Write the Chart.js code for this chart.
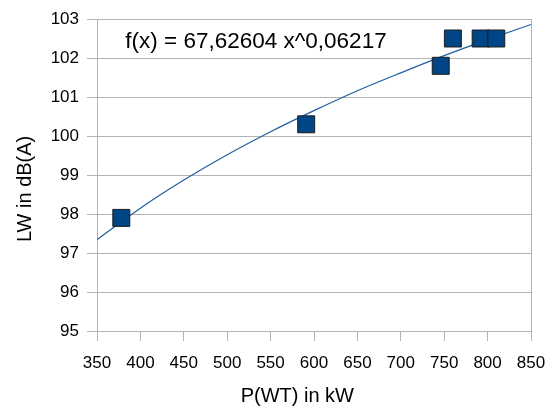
<!DOCTYPE html>
<html>
<head>
<meta charset="utf-8">
<script src="https://cdn.jsdelivr.net/npm/chart.js@4.4.1/dist/chart.umd.min.js"></script>
<style>
  body { margin: 0; background: #fff; }
  #wrap { width: 552px; height: 410px; }
</style>
</head>
<body>
<div id="wrap"><canvas id="chart" width="552" height="410"></canvas></div>
<script>
// measured turbines
const powerKW = [378, 591, 746, 760, 792, 810]
const soundDB = [97.9, 100.3, 101.8, 102.5, 102.5, 102.5]

// power trendline
const trendX = [350, 400, 450, 500, 550, 600, 650, 700, 750, 800, 850]
const trendY = [97.34, 98.15, 98.87, 99.52, 100.11, 100.65, 101.16, 101.62, 102.06, 102.47, 102.86]

const trendLabel = "f(x) = 67,62604 x^0,06217"
const xTitle = "P(WT) in kW"
const yTitle = "LW in dB(A)"

const gridColor = "#b3b3b3"
const fontFamily = "'Liberation Sans', Arial, sans-serif"

const equationPlugin = {
  id: "equation",
  afterDatasetsDraw(chart) {
    const { ctx, scales } = chart
    ctx.save()
    ctx.font = "22.5px " + fontFamily
    ctx.fillStyle = "#000"
    ctx.textBaseline = "middle"
    ctx.fillText(trendLabel, scales.x.getPixelForValue(382.6), scales.y.getPixelForValue(102.41))
    ctx.restore()
  }
}

new Chart(document.getElementById("chart"), {
  type: "scatter",
  data: {
    datasets: [
      {
        label: "LW",
        data: powerKW.map((x, i) => ({ x: x, y: soundDB[i] })),
        pointStyle: "rect",
        pointRadius: 12,
        pointHoverRadius: 12,
        backgroundColor: "#004586",
        borderColor: "#1c1c1c",
        borderWidth: 1,
        order: 1
      },
      {
        label: "trend",
        type: "line",
        data: trendX.map((x, i) => ({ x: x, y: trendY[i] })),
        borderColor: "#1f5f9f",
        borderWidth: 1.2,
        pointRadius: 0,
        fill: false,
        cubicInterpolationMode: "monotone",
        order: 2
      }
    ]
  },
  options: {
    responsive: false,
    animation: false,
    layout: { padding: { top: 19, right: 21, left: 0, bottom: 0 } },
    plugins: {
      legend: { display: false },
      tooltip: { enabled: false }
    },
    scales: {
      x: {
        type: "linear",
        min: 350,
        max: 850,
        afterFit: s => {
          s.height = 79
          s.paddingLeft = 0
          s.paddingRight = 0
        },
        ticks: {
          stepSize: 50,
          color: "#000",
          padding: 12,
          maxRotation: 0,
          font: { family: fontFamily, size: 17 }
        },
        grid: {
          color: c => (c.tick && c.tick.value === 850 ? gridColor : "transparent"),
          tickColor: gridColor,
          tickLength: 10,
          lineWidth: 1
        },
        border: { color: gridColor, width: 1 },
        title: {
          display: true,
          text: xTitle + "      ",
          color: "#000",
          font: { family: fontFamily, size: 20 },
          padding: { top: 0, bottom: 2 }
        }
      },
      y: {
        min: 95,
        max: 103,
        afterFit: s => { s.width = 97 },
        ticks: {
          stepSize: 1,
          color: "#000",
          padding: 8,
          font: { family: fontFamily, size: 17 }
        },
        grid: {
          color: gridColor,
          tickColor: gridColor,
          tickLength: 10,
          lineWidth: 1
        },
        border: { color: gridColor, width: 1 },
        title: {
          display: true,
          text: yTitle + "     ",
          color: "#000",
          font: { family: fontFamily, size: 20 },
          padding: { top: 13, bottom: 0 }
        }
      }
    }
  },
  plugins: [equationPlugin]
})
</script>
</body>
</html>
